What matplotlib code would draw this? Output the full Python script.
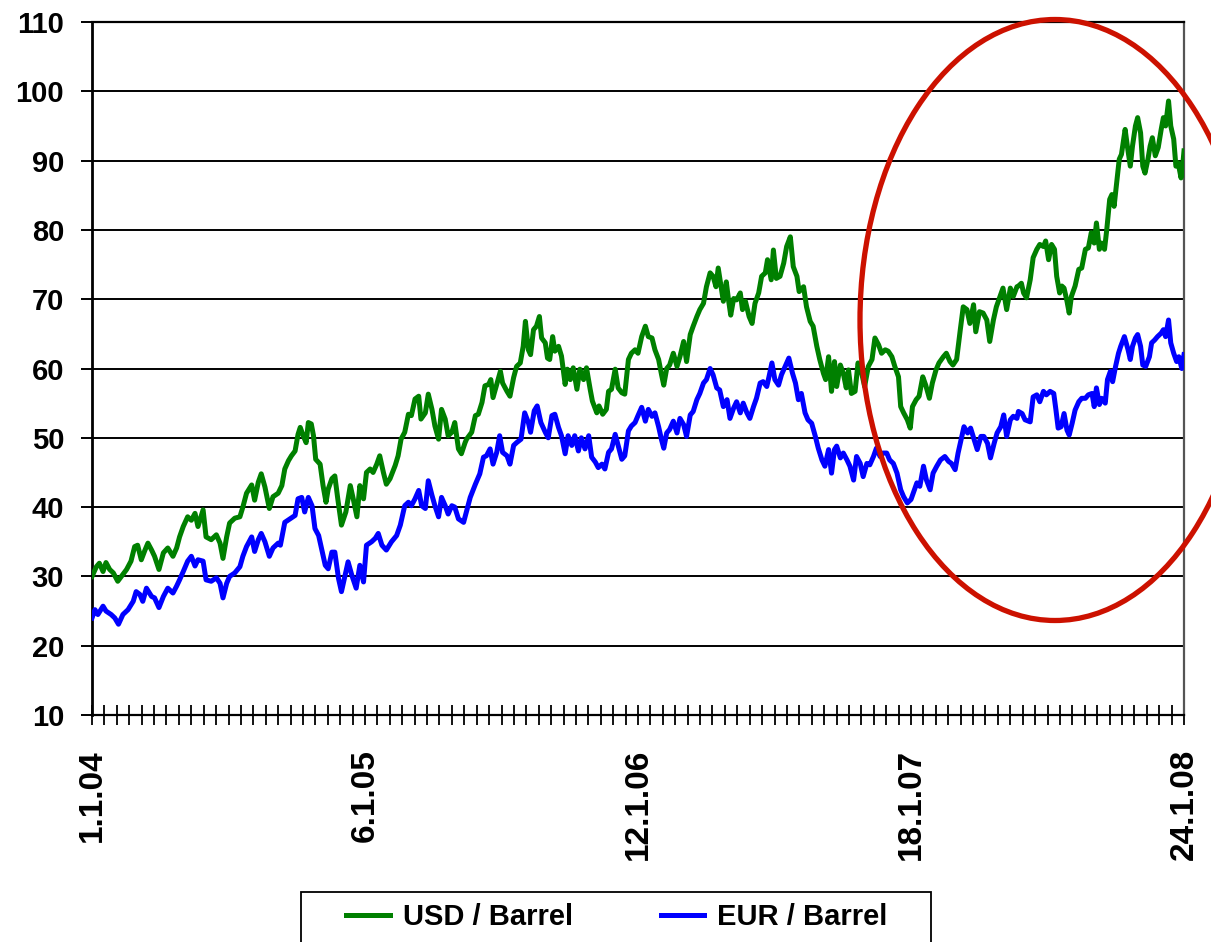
import numpy as np
import matplotlib
matplotlib.use("Agg")
import matplotlib.pyplot as plt
from matplotlib import font_manager
from matplotlib.font_manager import FontProperties
from matplotlib.patches import Ellipse, Rectangle

# ---------------- data ----------------
# x = days since 1.1.04
usd_day = [0,6,10,15,19,24,29,35,40,47,53,58,62,67,72,76,81,85,91,97,103,110,115,119,124,130,135,140,144,151,155,162,169,174,178,183,187,194,201,205,210,217,221,226,230,235,241,246,253,
           258,262,267,271,276,280,283,287,291,294,298,301,304,310,314,318,321,326,330,334,339,345,351,355,360,364,369,373,378,382,387,391,396,400,405,412,416,420,425,430,434,439,444,447,453,457,462,466,471,475,480,484,489,493,498,502,507,
           509,516,521,525,530,534,539,542,545,550,555,558,564,568,573,577,582,586,589,593,596,600,604,608,611,616,619,622,626,629,634,638,643,646,650,654,659,663,668,672,677,680,686,689,694,699,702,706,711,715,720,724,729,733,738,742,747,752,756,
           761,765,770,774,777,781,785,790,795,799,804,808,813,817,822,826,831,835,840,844,848,851,855,858,862,865,868,872,876,881,884,888,893,897,901,906,910,915,918,923,926,930,935,940,944,949,953,958,961,967,971,976,980,985,989,994,997,1001,1005,1009,
           1012,1017,1021,1025,1028,1032,1037,1041,1046,1050,1055,1060,1064,1069,1073,1078,1082,1087,1091,1096,1099,1103,1108,1112,1115,1120,1124,1129,1133,1138,1142,1147,1151,1157,1161,1166,1170,1175,1180,1184,1189,1193,1198,1201,1206,1211,1216,1220,1225,1229,1234,1238,1243,1248,1252,1257,
           1259,1263,1266,1270,1275,1279,1284,1288,1293,1296,1300,1304,1308,1311,1315,1318,1321,1325,1328,1331,1336,1341,1345,1350,1354,1358,1362,1365,1369,1372,1376,1379,1383,1386,1389,1393,1396,1399,1404,1407,1411,1414,1418,1421,1425,1428,1431,1435,1438,1441,1445,1449,1453,1456,1459,1463,1466,1470,1473,1476,1480,1483,1484]
usd = [30.0,31.4,31.9,30.7,32.0,31.0,30.5,29.3,30.0,31.0,32.2,34.3,34.5,32.4,33.8,34.8,33.8,32.9,31.0,33.4,34.1,32.9,34.1,35.7,37.2,38.6,38.1,39.1,37.2,39.6,35.7,35.3,36.0,34.8,32.6,35.7,37.7,38.4,38.6,40.0,42.0,43.2,41.0,43.6,44.8,42.9,39.8,41.5,42.0,
       43.1,45.5,46.7,47.4,48.1,50.5,51.5,50.3,49.3,52.2,52.0,50.3,46.9,46.2,43.1,40.7,42.6,44.1,44.5,41.2,37.4,39.3,43.1,41.2,38.6,43.1,41.2,45.0,45.5,45.0,46.2,47.4,45.0,43.3,44.1,46.0,47.4,49.8,50.8,53.4,53.2,55.6,56.0,52.7,53.6,56.3,54.1,51.7,49.8,54.1,52.7,50.3,50.8,52.2,48.4,47.7,49.3,
       49.8,50.8,53.2,53.4,55.1,57.5,57.7,58.4,55.8,57.7,59.6,57.9,56.7,56.0,58.7,60.3,60.8,63.2,66.8,62.7,62.0,65.6,66.1,67.5,64.4,63.7,61.5,61.3,64.6,62.5,63.2,61.8,57.7,59.9,58.4,60.1,57.0,59.9,58.4,60.1,57.0,55.3,53.6,54.6,53.4,54.1,56.7,57.0,59.9,57.2,56.5,56.3,61.3,62.2,62.7,62.2,64.6,66.1,64.6,
       64.4,62.7,61.3,59.1,57.6,60.0,60.5,62.2,60.3,61.7,63.9,61.0,64.9,66.1,67.5,68.5,69.4,71.8,73.8,73.3,71.8,74.5,71.8,69.7,72.5,69.9,67.7,70.1,69.9,70.9,68.5,69.7,67.5,66.5,69.4,70.9,73.3,73.8,75.7,72.8,77.1,73.0,73.3,75.2,77.6,79.0,74.7,73.3,71.1,71.8,68.9,66.8,66.1,63.2,61.3,59.3,58.4,61.7,56.7,61.0,
       57.4,60.5,59.3,57.2,59.8,56.4,56.7,60.8,59.3,57.4,60.3,61.3,64.4,63.4,62.2,62.7,62.5,61.7,60.3,58.8,54.5,53.6,52.6,51.4,54.5,55.5,56.0,58.8,57.6,55.7,57.9,59.8,60.8,61.7,62.2,61.0,60.5,61.3,65.6,68.9,68.5,66.5,69.2,65.3,68.2,68.0,67.0,63.9,67.0,68.9,70.4,71.6,68.5,71.6,70.4,71.8,
       71.9,72.3,70.9,70.2,72.8,76.0,77.2,77.9,77.6,78.4,75.7,77.9,77.2,73.3,70.9,71.9,71.6,69.7,68.0,70.4,71.9,74.3,74.5,77.2,77.4,79.6,78.1,81.0,77.2,78.1,77.2,80.0,84.4,85.1,83.4,87.3,90.2,90.9,94.5,92.1,89.2,92.1,95.0,96.2,94.0,89.2,88.2,90.2,92.1,93.3,90.7,91.9,94.5,96.2,95.0,98.6,95.0,93.1,89.2,89.7,87.5,90.2,91.4]

eur_day = [0,4,8,15,19,26,31,36,42,49,56,60,65,69,74,81,85,91,97,103,110,115,119,124,130,135,140,144,151,155,162,169,174,178,183,187,194,201,205,210,217,221,226,230,235,241,246,253,
           256,262,269,276,280,285,289,294,299,303,308,312,317,321,326,330,335,339,344,348,353,359,364,369,373,380,385,389,394,400,407,414,419,425,430,434,439,444,448,453,457,462,466,471,475,480,484,489,493,498,505,
           514,521,527,532,536,541,545,550,554,558,564,568,573,577,583,588,593,596,601,605,610,616,620,625,629,634,638,643,647,652,656,661,665,670,675,679,684,688,693,697,702,706,711,715,720,724,729,733,738,742,747,752,756,
           761,765,770,774,777,781,785,790,795,799,804,808,813,817,822,826,831,835,840,844,849,853,858,863,867,872,876,881,885,890,894,899,903,908,912,917,920,924,928,933,937,942,947,952,956,960,964,969,973,978,983,987,992,996,1001,1005,1009,
           1012,1017,1021,1026,1030,1035,1039,1044,1048,1053,1057,1062,1066,1071,1075,1080,1084,1089,1094,1099,1103,1108,1113,1116,1121,1125,1130,1134,1139,1143,1148,1153,1159,1164,1168,1173,1177,1182,1185,1190,1194,1199,1203,1208,1212,1217,1221,1226,1230,1235,1239,1243,1248,1252,1257,
           1259,1264,1268,1275,1279,1284,1288,1293,1297,1302,1307,1310,1313,1317,1321,1325,1328,1332,1336,1341,1345,1350,1354,1359,1362,1365,1369,1372,1377,1380,1384,1387,1391,1395,1398,1403,1408,1411,1414,1418,1421,1425,1428,1432,1437,1440,1444,1448,1453,1456,1459,1463,1466,1470,1474,1477,1481,1484]
eur = [24.0,25.2,24.5,25.7,25.0,24.5,24.0,23.1,24.5,25.2,26.4,27.8,27.4,26.4,28.3,27.1,26.9,25.5,27.1,28.3,27.6,28.6,29.5,30.7,32.2,32.9,31.5,32.4,32.2,29.5,29.3,29.8,29.0,26.9,29.0,30.0,30.5,31.4,32.9,34.3,35.7,33.6,35.3,36.2,35.0,32.9,34.1,34.8,
       34.5,37.8,38.3,38.8,41.2,41.4,39.3,41.4,40.2,36.9,35.9,34.0,31.6,31.1,33.5,33.5,29.7,27.8,30.2,32.1,30.2,28.3,31.6,29.2,34.5,35.0,35.5,36.2,34.5,33.8,35.0,35.9,37.4,40.2,40.7,40.2,41.2,42.4,40.2,39.8,43.8,41.7,40.2,38.6,41.4,40.2,39.0,40.2,40.0,38.3,37.8,
       41.4,43.3,44.8,47.2,47.4,48.4,46.2,47.9,50.3,47.9,47.4,46.2,48.9,49.3,49.8,53.6,52.2,50.8,53.9,54.6,52.2,50.8,50.0,53.2,53.4,51.5,50.3,47.7,50.3,48.9,50.3,48.1,50.0,48.4,50.3,47.2,46.5,45.7,46.2,45.5,47.9,48.4,50.5,48.9,46.9,47.4,51.0,51.7,52.2,53.2,54.4,52.4,54.1,
       53.1,53.6,51.6,49.7,48.5,50.7,51.2,52.4,50.7,52.8,51.9,50.2,53.3,53.8,55.5,56.4,57.9,58.4,60.0,59.1,57.2,56.9,54.5,55.5,52.8,54.3,55.2,53.6,55.0,53.6,52.8,54.5,55.7,57.9,58.1,57.4,58.8,60.8,58.4,57.6,59.1,60.3,61.5,59.3,57.9,55.5,56.4,53.6,52.6,52.1,50.2,48.5,46.8,45.9,48.3,44.9,48.3,
       48.8,47.1,47.8,46.8,45.9,43.9,47.3,46.3,44.4,46.3,46.1,47.3,48.5,47.3,47.8,47.8,46.8,46.3,44.9,42.5,41.5,40.6,41.1,42.0,43.5,43.0,45.9,43.9,42.5,44.9,45.9,46.8,47.3,46.6,46.3,45.4,47.8,50.2,51.6,50.7,51.4,49.7,48.3,50.2,50.2,49.2,47.1,49.2,50.7,51.6,53.3,50.2,52.6,53.1,52.8,
       53.8,53.5,52.6,52.3,55.9,56.2,55.2,56.7,56.2,56.7,56.4,54.0,51.4,51.6,53.5,51.1,50.4,52.1,54.0,55.2,55.7,55.7,56.2,56.4,54.5,57.2,54.8,55.7,55.0,58.4,59.6,58.1,60.3,62.2,63.2,64.6,62.7,61.3,63.2,64.4,64.9,63.2,60.5,60.3,61.7,63.7,64.1,64.6,65.1,65.6,64.6,67.0,63.7,62.2,61.0,61.7,60.0,62.0]

series_labels = ["USD / Barrel", "EUR / Barrel"]
date_tick_days = [0, 371, 742, 1113, 1484]
date_tick_labels = ["1.1.04", "6.1.05", "12.1.06", "18.1.07", "24.1.08"]
y_ticks = [10, 20, 30, 40, 50, 60, 70, 80, 90, 100, 110]

# ---------------- fonts ----------------
names = {f.name for f in font_manager.fontManager.ttflist}
base = "Liberation Sans" if "Liberation Sans" in names else "DejaVu Sans"
if "Liberation Sans Narrow" in names:
    narrow, narrow_size = "Liberation Sans Narrow", 24
else:
    narrow, narrow_size = base, 21

W, H = 1211, 942
fig = plt.figure(figsize=(W / 100, H / 100), dpi=100)
ax = fig.add_axes([92 / W, 1 - 715 / H, (1184 - 92) / W, (715 - 22) / H])

ax.plot(usd_day, usd, color="#008000", lw=3.6, solid_joinstyle="round", zorder=3, label=series_labels[0])
ax.plot(eur_day, eur, color="#0000FF", lw=3.6, solid_joinstyle="round", zorder=3, label=series_labels[1])

ax.set_xlim(0, 1484)
ax.set_ylim(10, 110)

ax.set_yticks(y_ticks)
ax.set_yticklabels([str(v) for v in y_ticks])
ax.yaxis.grid(True, color="black", lw=1.4)
ax.set_axisbelow(True)

ax.set_xticks(date_tick_days)
ax.set_xticklabels(date_tick_labels, rotation=90)
ax.set_xticks(np.linspace(0, 1484, 89), minor=True)

ax.tick_params(axis="y", direction="out", length=8, width=1.4, pad=12, colors="black")
ax.tick_params(axis="x", which="both", direction="inout", length=15, width=1.3, colors="black")
ax.tick_params(axis="x", which="major", pad=17)

for lab in ax.get_yticklabels():
    lab.set_fontfamily(narrow)
    lab.set_fontweight("bold")
    lab.set_fontsize(narrow_size)
for lab in ax.get_xticklabels():
    lab.set_fontfamily(base)
    lab.set_fontweight("bold")
    lab.set_fontsize(24)

for s in ["left", "bottom", "top"]:
    ax.spines[s].set_color("black")
ax.spines["left"].set_linewidth(2.0)
ax.spines["bottom"].set_linewidth(1.6)
ax.spines["top"].set_linewidth(1.6)
ax.spines["right"].set_color("#555555")
ax.spines["right"].set_linewidth(1.6)

# legend (frameless, with a separate frame rectangle)
handles, labels = ax.get_legend_handles_labels()
fig.legend(handles, labels, loc="center left", bbox_to_anchor=(346 / W, 1 - 917 / H),
           ncol=2, frameon=False, prop=FontProperties(family=narrow, weight="bold", size=narrow_size),
           handlelength=1.5, handletextpad=0.45, columnspacing=3.0, borderpad=0, borderaxespad=0)
fig.patches.append(Rectangle((301 / W, 1 - 970 / H), (931 - 301) / W, (970 - 892) / H,
                             transform=fig.transFigure, fill=False, ec="black", lw=1.3))

# red ellipse annotation
fig.patches.append(Ellipse((1055 / W, 1 - 320 / H), 390 / W, 601 / H, transform=fig.transFigure,
                           fill=False, ec="#CC1100", lw=3.8, zorder=10))

fig.savefig("out.png", dpi=100)
